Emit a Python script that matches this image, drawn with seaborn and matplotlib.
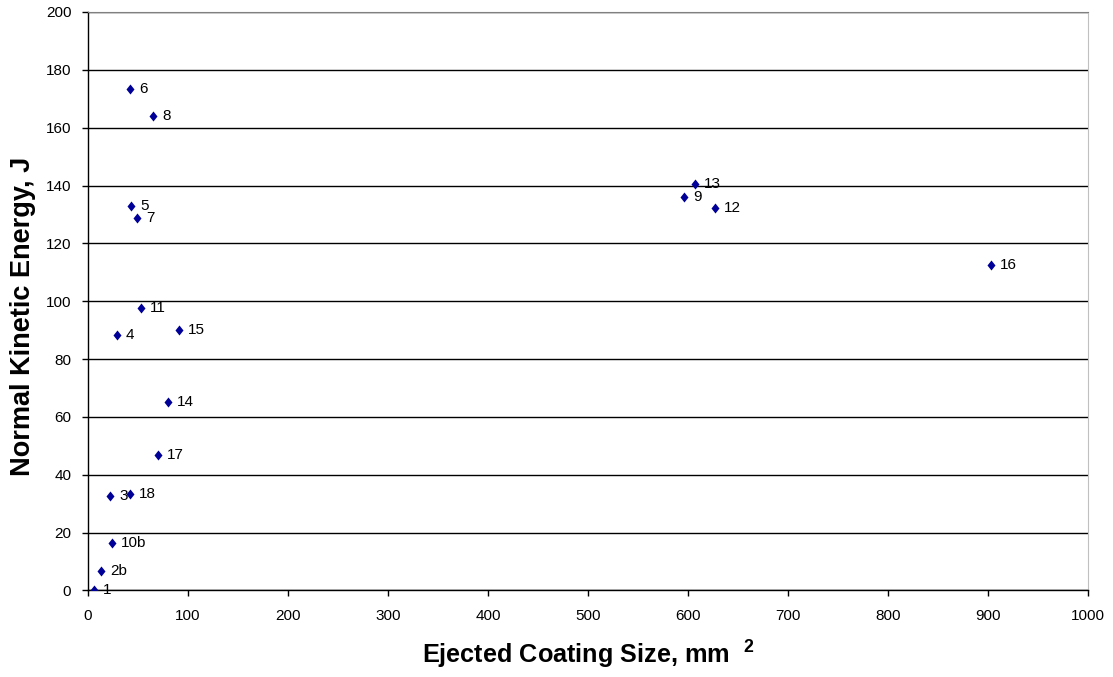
import matplotlib
matplotlib.use("Agg")
import matplotlib.pyplot as plt
import seaborn as sns
import pandas as pd

# data
labels = ["1", "2b", "10b", "3", "18", "17", "14", "4", "15", "11",
          "7", "5", "8", "6", "9", "13", "12", "16"]
coating_size = [6, 12.7, 24, 22, 42, 70, 80, 29, 91, 53,
                49, 43, 65, 42, 596, 607, 627, 903]
kinetic_energy = [0, 6.7, 16.4, 32.5, 33.3, 46.8, 65, 88.3, 89.9, 97.5,
                  128.9, 133, 164.2, 173.5, 136.2, 140.4, 132.4, 112.4]

df = pd.DataFrame({"size": coating_size, "energy": kinetic_energy, "label": labels})

sns.set_style("white")
plt.rcParams["font.family"] = ["Liberation Sans", "DejaVu Sans"]
plt.rcParams["mathtext.fontset"] = "custom"
plt.rcParams["mathtext.rm"] = "Liberation Sans"
plt.rcParams["mathtext.bf"] = "Liberation Sans:bold"
for key in ["text.color", "axes.labelcolor", "xtick.color", "ytick.color"]:
    plt.rcParams[key] = "black"

fig = plt.figure(figsize=(11.13, 6.77), dpi=100)
ax = fig.add_axes([0.0791, 0.1278, 0.8984, 0.8545])

# Excel-like diamond, a bit taller than wide
diamond = [(0, 1), (0.8, 0), (0, -1), (-0.8, 0), (0, 1)]
sns.scatterplot(data=df, x="size", y="energy", marker=diamond, s=52,
                color="#000099", edgecolor="#000099", linewidth=0, ax=ax, zorder=3)

for _, row in df.iterrows():
    ax.annotate(row["label"], (row["size"], row["energy"]), xytext=(6.5, 0),
                textcoords="offset points", va="center", ha="left", fontsize=11)

ax.set_xlim(0, 1000)
ax.set_ylim(0, 200)
ax.set_xticks(range(0, 1001, 100))
ax.set_yticks(range(0, 201, 20))
ax.yaxis.grid(True, color="black", linewidth=1)
ax.set_axisbelow(True)

ax.tick_params(axis="both", direction="out", length=4, width=1, color="black",
               labelsize=11, left=True, bottom=True)
ax.tick_params(axis="x", pad=9)
ax.tick_params(axis="y", pad=8)

for side in ["left", "bottom"]:
    ax.spines[side].set_color("black")
    ax.spines[side].set_linewidth(1)
ax.spines["top"].set_color("#808080")
ax.spines["right"].set_color("#c0c0c0")

ax.set_xlabel(r"Ejected Coating Size, mm  $\mathbf{^{2}}$", fontsize=18.2,
              fontweight="bold", labelpad=12)
ax.set_ylabel("Normal Kinetic Energy, J", fontsize=19.5, fontweight="bold")
ax.yaxis.set_label_coords(-0.052, 0.4745)

fig.savefig("out.png", dpi=100)
